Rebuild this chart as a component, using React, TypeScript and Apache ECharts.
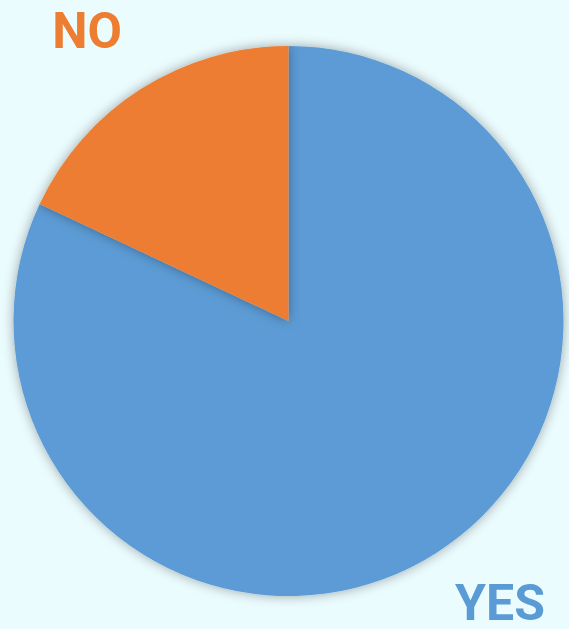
import React, { useEffect, useRef } from "react";
import * as echarts from "echarts";

const categories = ["YES", "NO"];
const values = [82, 18];
const colors = ["#5B9BD5", "#ED7D31"];
const labelPos = [
  { x: 500, y: 603 },
  { x: 87, y: 31 },
];

export default function App() {
  const ref = useRef<HTMLDivElement>(null);
  useEffect(() => {
    document.body.style.margin = "0";
    const chart = echarts.init(ref.current!, null, { renderer: "svg" });
    chart.setOption({
      animation: false,
      backgroundColor: "#EBFCFE",
      series: [
        {
          type: "pie",
          center: [288.5, 321],
          radius: 275,
          startAngle: 90,
          clockwise: true,
          avoidLabelOverlap: false,
          data: categories.map((c, i) => ({
            name: c,
            value: values[i],
            itemStyle: { color: colors[i] },
            label: { color: colors[i] },
          })),
          itemStyle: {
            shadowBlur: 12,
            shadowColor: "rgba(0,0,0,0.35)",
            borderWidth: 0,
          },
          label: {
            show: true,
            position: "outside",
            formatter: "{b}",
            fontFamily: "Roboto",
            fontWeight: "bold",
            fontSize: 50,
            lineHeight: 38,
          },
          labelLine: { show: false },
          labelLayout: (params: any) => ({
            x: labelPos[params.dataIndex].x,
            y: labelPos[params.dataIndex].y,
            align: "center",
            verticalAlign: "middle",
          }),
          emphasis: { disabled: true },
        },
      ],
    });
    return () => chart.dispose();
  }, []);
  return <div ref={ref} style={{ width: 569, height: 629 }} />;
}
